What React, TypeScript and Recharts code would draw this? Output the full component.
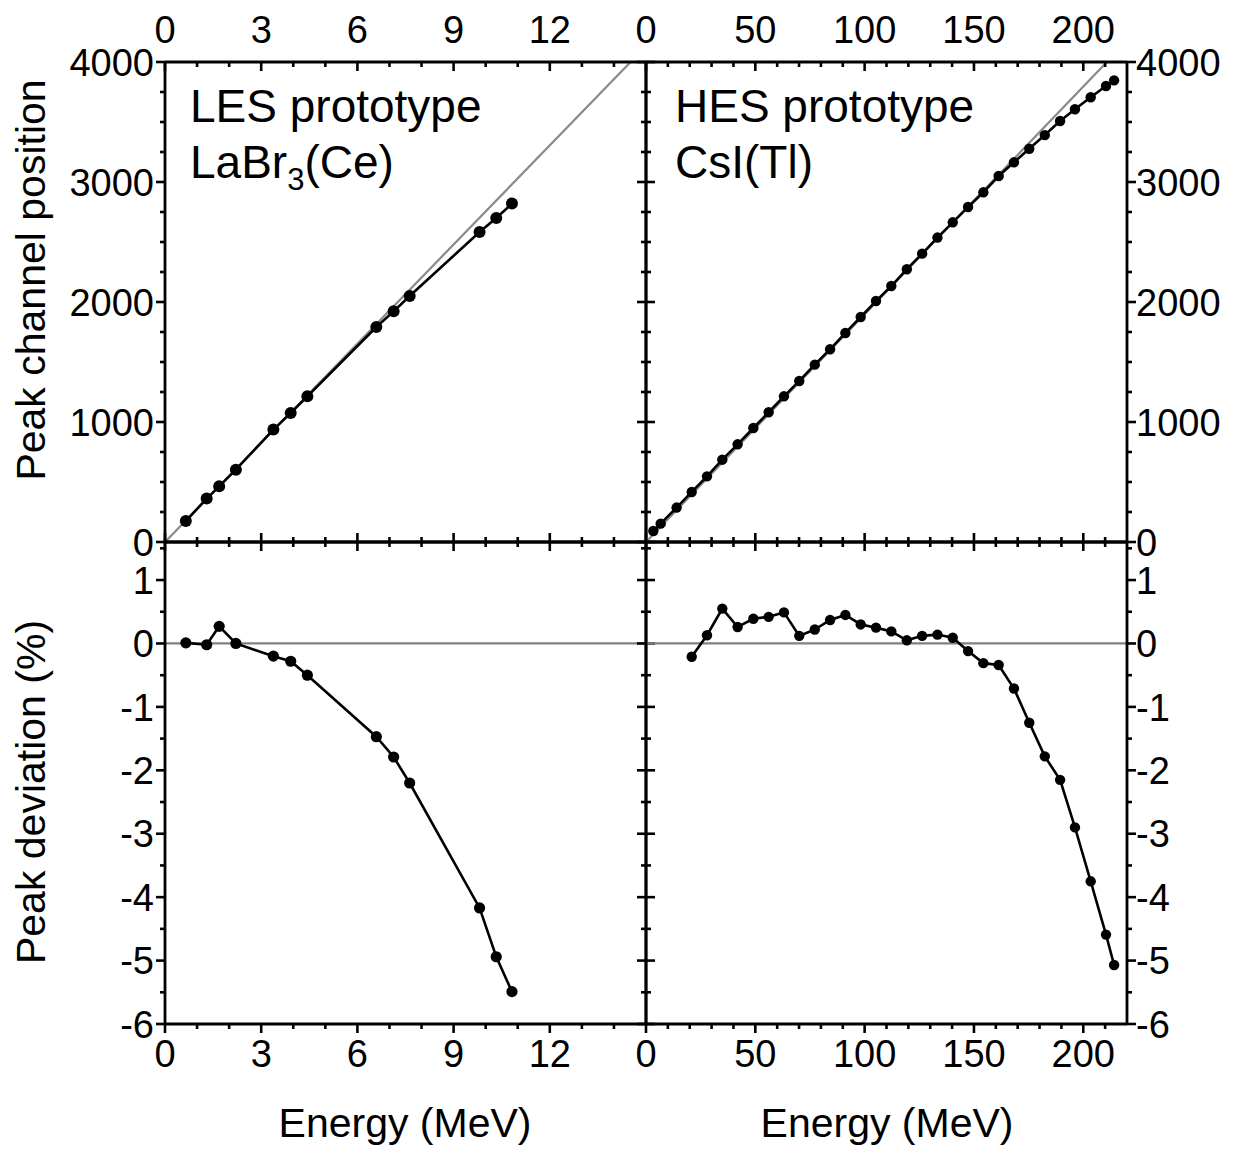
import React from 'react';
import { LineChart, Line, XAxis, YAxis, ReferenceLine } from 'recharts';

// ---------- data ----------
const lesEnergy = [0.65, 1.3, 1.69, 2.21, 3.38, 3.92, 4.44, 6.59, 7.13, 7.63, 9.81, 10.33, 10.82];
const lesChannel = [175, 362, 464, 603, 937, 1075, 1214, 1792, 1922, 2050, 2583, 2700, 2820];
const lesDeviation = [0.01, -0.02, 0.27, 0.0, -0.2, -0.28, -0.5, -1.47, -1.79, -2.2, -4.17, -4.94, -5.49];

const hesEnergy = [3.35, 6.71, 14.0, 20.9, 27.9, 34.9, 41.9, 49.1, 56.1, 63.1, 70.1, 77.2, 84.2, 91.2, 98.2, 105.2, 112.2, 119.3, 126.3, 133.3, 140.3, 147.3, 154.3, 161.3, 168.3, 175.3, 182.4, 189.4, 196.2, 203.4, 210.4, 214.1];
const hesChannel = [92, 153, 287, 417, 547, 686, 814, 950, 1081, 1214, 1342, 1478, 1606, 1742, 1875, 2008, 2133, 2273, 2403, 2537, 2664, 2792, 2914, 3050, 3164, 3277, 3391, 3508, 3606, 3706, 3800, 3847];
const hesDevEnergy = [20.9, 27.9, 34.9, 41.9, 49.1, 56.1, 63.1, 70.1, 77.2, 84.2, 91.2, 98.2, 105.2, 112.2, 119.3, 126.3, 133.3, 140.3, 147.3, 154.3, 161.3, 168.3, 175.3, 182.4, 189.4, 196.2, 203.4, 210.4, 214.1];
const hesDeviation = [-0.21, 0.13, 0.55, 0.26, 0.39, 0.42, 0.49, 0.12, 0.22, 0.37, 0.45, 0.3, 0.25, 0.19, 0.05, 0.12, 0.14, 0.09, -0.12, -0.31, -0.34, -0.71, -1.25, -1.78, -2.15, -2.9, -3.75, -4.59, -5.07];

// linear reference lines (energy, channel)
const lesFitEnergy = [0, 14.52];
const lesFitChannel = [0, 4000];
const hesFitEnergy = [0, 210.8];
const hesFitChannel = [0, 4000];

// axes
const lesXDomain = [0, 15];
const hesXDomain = [0, 220];
const chDomain = [0, 4000];
const devDomain = [-6, 1.6];
const lesXTicks = [0, 1, 2, 3, 4, 5, 6, 7, 8, 9, 10, 11, 12, 13, 14];
const lesXLabels = [0, 3, 6, 9, 12];
const hesXTicks = [0, 10, 20, 30, 40, 50, 60, 70, 80, 90, 100, 110, 120, 130, 140, 150, 160, 170, 180, 190, 200, 210];
const hesXLabels = [0, 50, 100, 150, 200];
const chTicks = [0, 250, 500, 750, 1000, 1250, 1500, 1750, 2000, 2250, 2500, 2750, 3000, 3250, 3500, 3750, 4000];
const chLabels = [0, 1000, 2000, 3000, 4000];
const devTicks = [-6, -5.5, -5, -4.5, -4, -3.5, -3, -2.5, -2, -1.5, -1, -0.5, 0, 0.5, 1, 1.5];
const devLabels = [-6, -5, -4, -3, -2, -1, 0, 1];

const zip = (xs: number[], ys: number[]) => xs.map((x, i) => ({ x, y: ys[i] }));

const FONT = '"Liberation Sans", Arial, Helvetica, sans-serif';
const W = 1250;
const H = 1149;
const TICK_FS = 38;

type Side = 'left' | 'right' | 'top' | 'bottom';

function makeTick(side: Side, out: boolean, labels: number[], majors: number[]) {
  return (props: any) => {
    const { x, y, payload } = props;
    const v = payload.value as number;
    const major = majors.includes(v);
    const len = major ? 9 : 5;
    const s = out ? 1 : -1;
    let x2 = x, y2 = y;
    if (side === 'left') x2 = x - len * s;
    if (side === 'right') x2 = x + len * s;
    if (side === 'top') y2 = y - len * s;
    if (side === 'bottom') y2 = y + len * s;
    const showLabel = labels.includes(v);
    let label = null;
    if (showLabel) {
      const common = { fontSize: TICK_FS, fontFamily: FONT, fill: '#000' } as any;
      if (side === 'left') label = <text x={x - 11} y={y} dy="0.36em" textAnchor="end" {...common}>{String(v)}</text>;
      if (side === 'right') label = <text x={x + 9} y={y} dy="0.36em" textAnchor="start" {...common}>{String(v)}</text>;
      if (side === 'top') label = <text x={x} y={y - 19} textAnchor="middle" {...common}>{String(v)}</text>;
      if (side === 'bottom') label = <text x={x} y={y + 43} textAnchor="middle" {...common}>{String(v)}</text>;
    }
    return (
      <g>
        <line x1={x} y1={y} x2={x2} y2={y2} stroke="#000" strokeWidth={2.6} />
        {label}
      </g>
    );
  };
}

type PanelProps = {
  x0: number; x1: number; y0: number; y1: number;
  xDomain: number[]; yDomain: number[];
  xTicks: number[]; yTicks: number[];
  xMajors: number[]; yMajors: number[];
  xLabelSide: 'top' | 'bottom'; xLabels: number[];
  yLabelSide: 'left' | 'right'; yLabels: number[];
  topOut: boolean;
  data: { x: number; y: number }[];
  fit?: { x: number; y: number }[];
  zero?: boolean;
  dotR: number;
};

function Panel(p: PanelProps) {
  const margin = { left: p.x0 - 10, right: W - p.x1 - 10, top: p.y0 - 10, bottom: H - p.y1 - 10 };
  const axisLine = { stroke: '#000', strokeWidth: 2.8 };
  const common = {
    type: 'number' as const,
    interval: 0 as const,
    tickSize: 0,
    tickMargin: 0,
    tickLine: false,
    axisLine,
    allowDataOverflow: true,
  };
  return (
    <div style={{ position: 'absolute', left: 0, top: 0 }}>
      <LineChart width={W} height={H} margin={margin}>
        <XAxis {...common} xAxisId="b" orientation="bottom" dataKey="x" domain={p.xDomain as any} ticks={p.xTicks} height={10}
          tick={makeTick('bottom', true, p.xLabelSide === 'bottom' ? p.xLabels : [], p.xMajors)} />
        <XAxis {...common} xAxisId="t" orientation="top" dataKey="x" domain={p.xDomain as any} ticks={p.xTicks} height={10}
          tick={makeTick('top', p.topOut, p.xLabelSide === 'top' ? p.xLabels : [], p.xMajors)} />
        <YAxis {...common} yAxisId="l" orientation="left" domain={p.yDomain as any} ticks={p.yTicks} width={10}
          tick={makeTick('left', true, p.yLabelSide === 'left' ? p.yLabels : [], p.yMajors)} />
        <YAxis {...common} yAxisId="r" orientation="right" domain={p.yDomain as any} ticks={p.yTicks} width={10}
          tick={makeTick('right', true, p.yLabelSide === 'right' ? p.yLabels : [], p.yMajors)} />
        {p.zero && (
          <ReferenceLine xAxisId="b" yAxisId="l" y={0} stroke="#808080" strokeWidth={2.2} />
        )}
        {p.fit && (
          <Line xAxisId="b" yAxisId="l" data={p.fit} dataKey="y" stroke="#8a8a8a" strokeWidth={2.2}
            dot={false} activeDot={false} isAnimationActive={false} />
        )}
        <Line xAxisId="b" yAxisId="l" data={p.data} dataKey="y" stroke="#000" strokeWidth={2.6}
          dot={{ r: p.dotR, fill: '#000', stroke: '#000', strokeWidth: 0 }} activeDot={false} isAnimationActive={false} />
      </LineChart>
    </div>
  );
}

const LX0 = 165, LX1 = 646, RX0 = 646, RX1 = 1127;
const TY0 = 62, TY1 = 542, BY0 = 542, BY1 = 1024;

export default function App() {
  const lesMajX = [0, 3, 6, 9, 12];
  return (
    <div style={{ position: 'absolute', left: 0, top: 0, width: W, height: H, background: '#fff' }}>
      <Panel x0={LX0} x1={LX1} y0={TY0} y1={TY1} xDomain={lesXDomain} yDomain={chDomain}
        xTicks={lesXTicks} yTicks={chTicks} xMajors={lesMajX} yMajors={chLabels}
        xLabelSide="top" xLabels={lesXLabels} yLabelSide="left" yLabels={chLabels} topOut={false}
        data={zip(lesEnergy, lesChannel)} fit={zip(lesFitEnergy, lesFitChannel)} dotR={6} />
      <Panel x0={RX0} x1={RX1} y0={TY0} y1={TY1} xDomain={hesXDomain} yDomain={chDomain}
        xTicks={hesXTicks} yTicks={chTicks} xMajors={hesXLabels} yMajors={chLabels}
        xLabelSide="top" xLabels={hesXLabels} yLabelSide="right" yLabels={chLabels} topOut={false}
        data={zip(hesEnergy, hesChannel)} fit={zip(hesFitEnergy, hesFitChannel)} dotR={5.2} />
      <Panel x0={LX0} x1={LX1} y0={BY0} y1={BY1} xDomain={lesXDomain} yDomain={devDomain}
        xTicks={lesXTicks} yTicks={devTicks} xMajors={lesMajX} yMajors={devLabels}
        xLabelSide="bottom" xLabels={lesXLabels} yLabelSide="left" yLabels={devLabels} topOut={true}
        data={zip(lesEnergy, lesDeviation)} zero dotR={5.6} />
      <Panel x0={RX0} x1={RX1} y0={BY0} y1={BY1} xDomain={hesXDomain} yDomain={devDomain}
        xTicks={hesXTicks} yTicks={devTicks} xMajors={hesXLabels} yMajors={devLabels}
        xLabelSide="bottom" xLabels={hesXLabels} yLabelSide="right" yLabels={devLabels} topOut={true}
        data={zip(hesDevEnergy, hesDeviation)} zero dotR={5.2} />
      <svg width={W} height={H} style={{ position: 'absolute', left: 0, top: 0, pointerEvents: 'none' }}>
        <g fontFamily={FONT} fill="#000">
          <text x={45} y={280} fontSize={41} textAnchor="middle" transform="rotate(-90 45 280)">Peak channel position</text>
          <text x={45} y={792} fontSize={41} textAnchor="middle" transform="rotate(-90 45 792)">Peak deviation (%)</text>
          <text x={405} y={1137} fontSize={41} textAnchor="middle">Energy (MeV)</text>
          <text x={887} y={1137} fontSize={41} textAnchor="middle">Energy (MeV)</text>
          <text x={190} y={122} fontSize={46}>LES prototype</text>
          <text x={190} y={178} fontSize={46}>LaBr<tspan fontSize={31} dy={12}>3</tspan><tspan dy={-12}>(Ce)</tspan></text>
          <text x={675} y={122} fontSize={46}>HES prototype</text>
          <text x={675} y={178} fontSize={46}>CsI(Tl)</text>
        </g>
      </svg>
    </div>
  );
}
